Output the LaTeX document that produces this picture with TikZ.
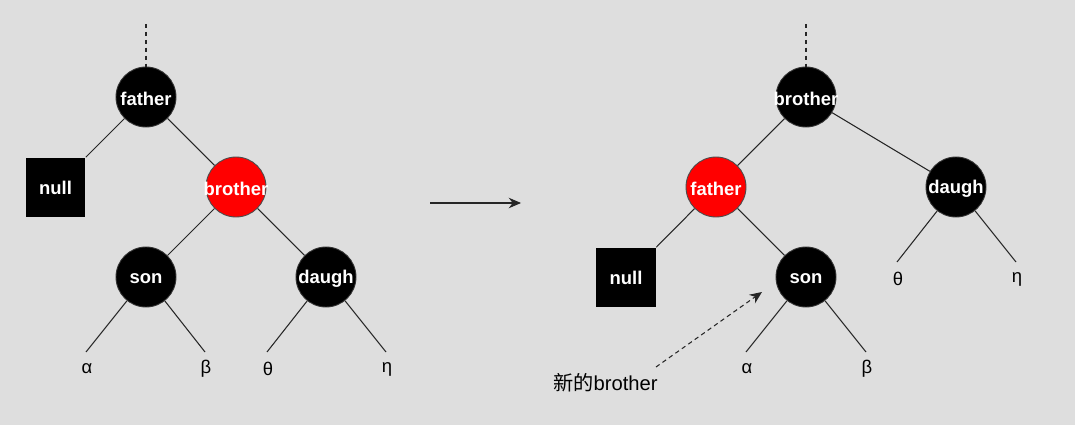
\documentclass[tikz,border=0pt]{standalone}
\usepackage{fontspec}
\setmainfont{Liberation Sans}
\newfontfamily\cjk{Noto Sans CJK SC}
\usetikzlibrary{arrows.meta}
\definecolor{bggray}{RGB}{222,222,222}
\definecolor{rbred}{RGB}{255,0,0}

\tikzset{
	keytext/.style={text=white,inner sep=0pt,font=\fontsize{10.5}{12}\selectfont\bfseries},
	blacknode/.style={circle,fill=black,draw=black!80,line width=0.5pt,minimum size=1.2cm,inner sep=0pt,label={[keytext,yshift=-1pt]center:#1}},
	rednode/.style={blacknode=#1,fill=rbred,draw=black!70},
	nullbox/.style={rectangle,fill=black,minimum size=1.2cm,inner sep=0pt,keytext},
	leaf/.style={font=\fontsize{10.5}{12}\selectfont},
	edge/.style={draw=black!85,line width=0.6pt},
	note/.style={dash pattern=on 2.5pt off 2pt}
}

\begin{document}
\begin{tikzpicture}[x=0.02cm,y=-0.02cm]
	\fill[bggray] (0,0) rectangle (1075,425);
	\useasboundingbox (0,0) rectangle (1075,425);
	
	%% left tree
	\node[blacknode=father] (f1) at (146,97) {};
	\node[nullbox] (n1) at (55.5,187.5) {null};
	\node[rednode=brother] (b1) at (236,187) {};
	\node[blacknode=son] (s1) at (146,277) {};
	\node[blacknode=daugh] (d1) at (326,277) {};
	\coordinate (top1) at (146,24);
	\draw[edge,note] (top1) -- (f1);
	\draw[edge] (f1) -- (n1.north east);
	\draw[edge] (f1) -- (b1);
	\draw[edge] (b1) -- (s1);
	\draw[edge] (b1) -- (d1);
	% leaves
	\foreach \nm/\up/\x/\txt in {la1/s1/86/α, lb1/s1/205/β, lt1/d1/267/θ, le1/d1/386/η}{
		\coordinate (\nm) at (\x,352);
		\draw[edge] (\up) -- (\nm);
		\node[leaf] at (\x+1,369) {\txt};
	}
	
	%% arrow between
	\coordinate (ar1) at (430,203);
	\coordinate (ar2) at (521,203);
	\draw[edge,-{Stealth[length=7pt,width=6pt]}] (ar1) -- (ar2);
	
	%% right tree
	\node[blacknode=brother] (b2) at (806,97) {};
	\node[rednode=father] (f2) at (716,187) {};
	\node[blacknode=daugh] (d2) at (956,187) {};
	\node[nullbox] (n2) at (626,277.5) {null};
	\node[blacknode=son] (s2) at (806,277) {};
	\coordinate (top2) at (806,24);
	\draw[edge,note] (top2) -- (b2);
	\draw[edge] (b2) -- (f2);
	\draw[edge] (b2) -- (d2);
	\draw[edge] (f2) -- (n2.north east);
	\draw[edge] (f2) -- (s2);
	% leaves
	\foreach \nm/\up/\x/\y/\txt in {la2/s2/746/352/α, lb2/s2/866/352/β, lt2/d2/897/262/θ, le2/d2/1016/262/η}{
		\coordinate (\nm) at (\x,\y);
		\draw[edge] (\up) -- (\nm);
		\node[leaf] at (\x+1,\y+17) {\txt};
	}
	
	%% new brother note
	\node[leaf,font=\fontsize{11.5}{13}\selectfont,anchor=west] (nb) at (547,383) {{\cjk 新的}brother};
	\coordinate (nbtail) at (656,367);
	\coordinate (nbtip) at (762,292);
	\draw[edge,note,-{Stealth[length=7pt,width=6pt]}] (nbtail) -- (nbtip);
\end{tikzpicture}
\end{document}
